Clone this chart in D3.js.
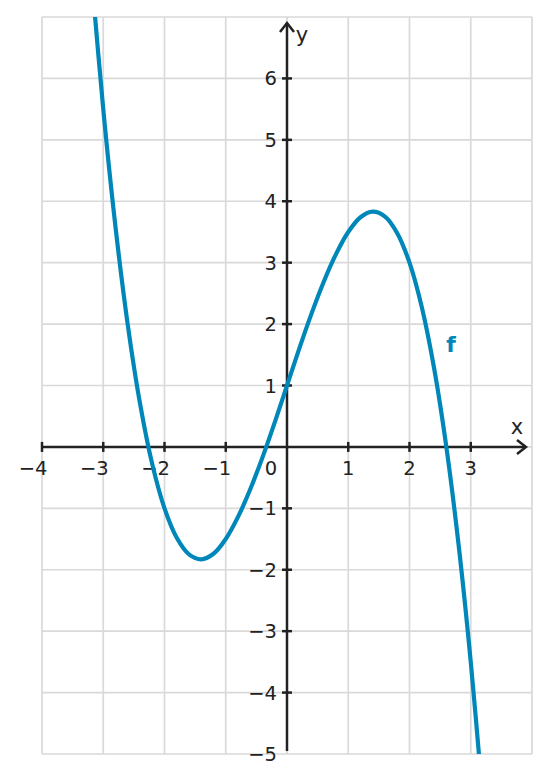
<!DOCTYPE html>
<html>
<head>
<meta charset="utf-8">
<script src="https://cdn.jsdelivr.net/npm/d3@7"></script>
<style>
  body { margin: 0; background: #fff; }
  svg text { font-family: "DejaVu Sans", sans-serif; fill: #222; font-size: 19.5px; }
</style>
</head>
<body>
<script>
const xs = [-3.2, -3.0, -2.8, -2.6, -2.4, -2.2, -2.0, -1.8, -1.6, -1.4, -1.2, -1.0, -0.8, -0.6, -0.4, -0.2,
            0, 0.2, 0.4, 0.6, 0.8, 1.0, 1.2, 1.4, 1.6, 1.8, 2.0, 2.2, 2.4, 2.6, 2.8, 3.0, 3.2];
const ys = [7.78, 5.5, 3.58, 1.99, 0.71, -0.28, -1, -1.48, -1.75, -1.83, -1.74, -1.5, -1.14, -0.69, -0.17, 0.4,
            1, 1.6, 2.17, 2.69, 3.14, 3.5, 3.74, 3.83, 3.75, 3.48, 3, 2.28, 1.29, 0.01, -1.58, -3.5, -5.78];
const xTicks = [-4, -3, -2, -1, 1, 2, 3];
const yTicks = [-5, -4, -3, -2, -1, 1, 2, 3, 4, 5, 6];
const gridX = [-4, -3, -2, -1, 0, 1, 2, 3, 4];
const gridY = [-5, -4, -3, -2, -1, 0, 1, 2, 3, 4, 5, 6, 7];

const W = 551, H = 783;
const color = "#0087b9";

const x = d3.scaleLinear().domain([-4, 4]).range([42, 532]);
const y = d3.scaleLinear().domain([-5, 7]).range([754, 17]);

const svg = d3.select("body").append("svg").attr("width", W).attr("height", H);

// grid
svg.append("g").selectAll("line").data(gridX).enter().append("line")
  .attr("x1", d => x(d)).attr("x2", d => x(d))
  .attr("y1", y(-5)).attr("y2", y(7))
  .attr("stroke", "#d9d9d9").attr("stroke-width", 1.7);
svg.append("g").selectAll("line").data(gridY).enter().append("line")
  .attr("y1", d => y(d)).attr("y2", d => y(d))
  .attr("x1", x(-4)).attr("x2", x(4))
  .attr("stroke", "#d9d9d9").attr("stroke-width", 1.7);

svg.append("clipPath").attr("id", "clip").append("rect")
  .attr("x", x(-4)).attr("y", y(7)).attr("width", x(4) - x(-4)).attr("height", y(-5) - y(7));

// axes
const ax = svg.append("g").attr("stroke", "#222").attr("stroke-width", 2.5).attr("fill", "none");
ax.append("line").attr("x1", x(-4)).attr("x2", 526).attr("y1", y(0)).attr("y2", y(0));
ax.append("path").attr("d", `M${517},${y(0) - 7}L${526},${y(0)}L${517},${y(0) + 7}`);
ax.append("line").attr("x1", x(0)).attr("x2", x(0)).attr("y1", 751).attr("y2", 23);
ax.append("path").attr("d", `M${x(0) - 7},${32}L${x(0)},${23}L${x(0) + 7},${32}`);

ax.selectAll(".xt").data(xTicks).enter().append("line")
  .attr("x1", d => x(d)).attr("x2", d => x(d))
  .attr("y1", y(0) - 5).attr("y2", y(0) + 5);
ax.selectAll(".yt").data(yTicks.filter(d => d !== -5)).enter().append("line")
  .attr("y1", d => y(d)).attr("y2", d => y(d))
  .attr("x1", x(0) - 5).attr("x2", x(0) + 5);

const fmt = d => d < 0 ? "\u2212" + Math.abs(d) : String(d);

// negative labels: digit sits under the tick, minus hangs to the left
svg.append("g").selectAll("text").data(xTicks).enter().append("text")
  .attr("x", d => d < 0 ? x(d) - 9 : x(d)).attr("y", y(0) + 28)
  .attr("text-anchor", "middle")
  .text(fmt);
svg.append("g").selectAll("text").data(yTicks).enter().append("text")
  .attr("x", x(0) - 10).attr("y", d => y(d) + 7)
  .attr("text-anchor", "end")
  .text(fmt);
svg.append("text").attr("x", 271).attr("y", y(0) + 28)
  .attr("text-anchor", "middle").text("0");

svg.append("text").attr("x", 517).attr("y", 434).attr("text-anchor", "middle")
  .style("font-size", "21px").text("x");
svg.append("text").attr("x", 302).attr("y", 42).attr("text-anchor", "middle")
  .style("font-size", "21px").text("y");

// curve
const pts = xs.map((d, i) => [d, ys[i]]);
svg.append("path").datum(pts)
  .attr("clip-path", "url(#clip)")
  .attr("fill", "none").attr("stroke", color).attr("stroke-width", 4.2)
  .attr("d", d3.line().x(d => x(d[0])).y(d => y(d[1])).curve(d3.curveCatmullRom));

svg.append("text").attr("x", 451).attr("y", 352).attr("text-anchor", "middle")
  .style("font-size", "22px").style("font-weight", "bold").style("fill", color).text("f");
</script>
</body>
</html>
